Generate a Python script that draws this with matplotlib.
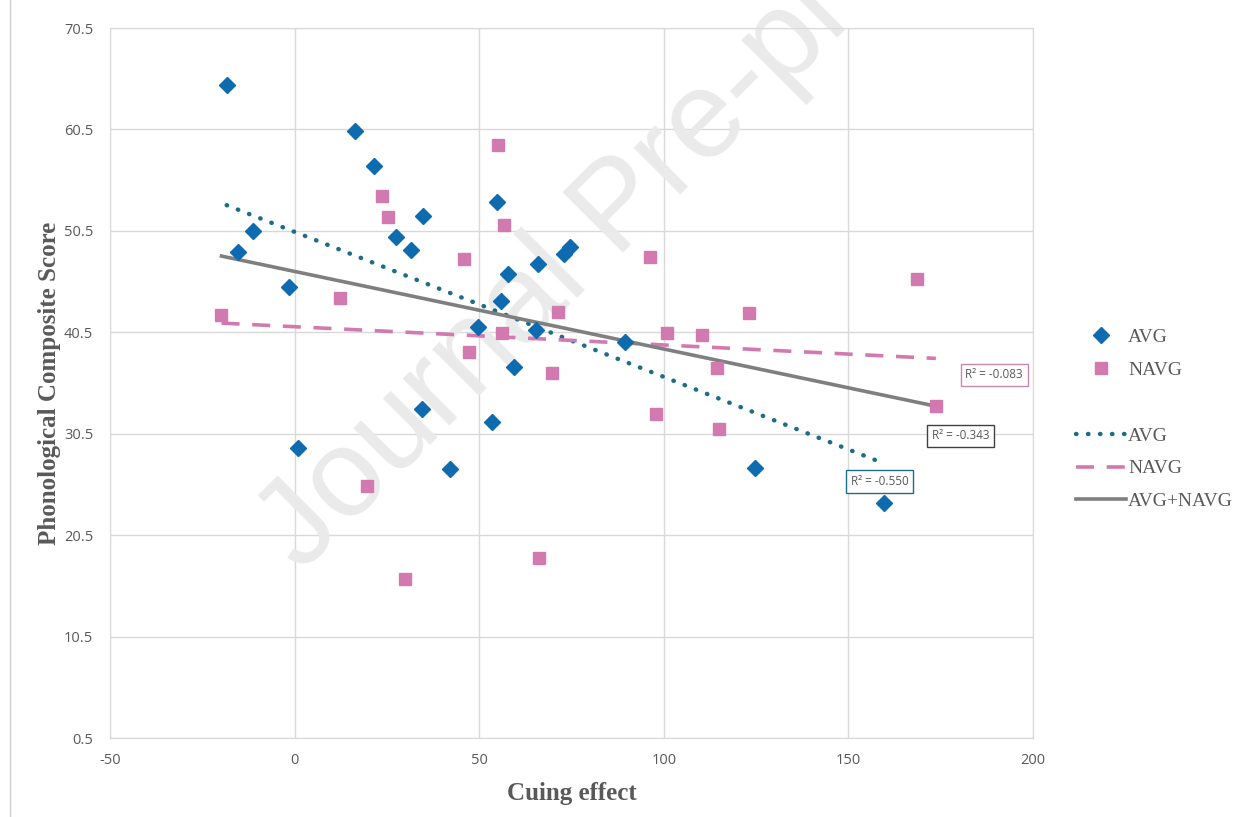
import numpy as np
import matplotlib.pyplot as plt
from matplotlib.lines import Line2D
from matplotlib.ticker import FuncFormatter

# AVG group (blue diamonds)
avg_x = [-18.4, -15.4, -11.4, -1.4, 0.8, 16.3, 21.4, 27.6, 31.4, 34.7, 34.4, 42.0,
         49.6, 53.4, 54.7, 55.8, 57.7, 59.3, 65.3, 65.9, 72.9, 74.5, 89.4, 124.7, 159.6]
avg_y = [64.9, 48.4, 50.5, 45.0, 29.1, 60.3, 56.9, 49.9, 48.6, 52.0, 32.9, 27.0,
         41.0, 31.7, 53.3, 43.6, 46.2, 37.1, 40.7, 47.2, 48.2, 48.9, 39.5, 27.1, 23.7]

# NAVG group (pink squares)
navg_x = [-19.8, 12.2, 19.5, 23.8, 25.2, 29.8, 45.8, 47.2, 55.0, 56.1, 56.6, 66.1,
          69.6, 71.3, 96.2, 97.8, 100.8, 110.3, 114.4, 114.9, 123.0, 168.6, 173.7]
navg_y = [42.2, 43.9, 25.3, 53.9, 51.9, 16.2, 47.7, 38.6, 59.0, 40.4, 51.1, 18.2,
          36.5, 42.5, 47.9, 32.4, 40.4, 40.2, 37.0, 31.0, 42.4, 45.8, 33.2]

# linear trend lines: (slope, intercept)
trend_avg = (-0.143, 50.4)
trend_navg = (-0.018, 41.05)
trend_all = (-0.0765, 46.5)

r2_labels = ["R\u00b2 = -0.550", "R\u00b2 = -0.083", "R\u00b2 = -0.343"]
r2_pos = [(158.5, 25.8), (189.5, 36.3), (180.3, 30.3)]

x_ticks = [-50, 0, 50, 100, 150, 200]
y_ticks = [0.5, 10.5, 20.5, 30.5, 40.5, 50.5, 60.5, 70.5]

blue = '#0E6BB0'
teal = '#1C6D88'
pink = '#D27AAF'
grey = '#7F7F7F'
txt = '#595959'

fig = plt.figure(figsize=(12.48, 8.17), dpi=100)
ax = fig.add_axes([110 / 1248, 1 - 738 / 817, (1033 - 110) / 1248, (738 - 28) / 817])

ax.set_xlim(-50, 200)
ax.set_ylim(0.5, 70.5)
ax.set_xticks(x_ticks)
ax.set_yticks(y_ticks)
ax.xaxis.set_major_formatter(FuncFormatter(lambda v, p: f"{v:.0f}"))
ax.yaxis.set_major_formatter(FuncFormatter(lambda v, p: f"{v:.1f}"))
ax.tick_params(length=0, labelsize=10.5, labelcolor=txt)
ax.tick_params(axis='x', pad=11)
ax.tick_params(axis='y', pad=12)
for lab in ax.get_xticklabels() + ax.get_yticklabels():
    lab.set_fontfamily('Open Sans')
ax.grid(True, color='#D9D9D9', linewidth=1)
ax.set_axisbelow(True)
for sp in ax.spines.values():
    sp.set_color('#D9D9D9')

# watermark (runs off the top edge, as in the source page)
ax.text(620 / 1248, 1 - 210 / 817, "Journal Pre-proof", transform=fig.transFigure,
        fontsize=90, family='Liberation Sans', color='#EAEAEA', rotation=45,
        ha='center', va='center', zorder=1, clip_on=False)

# trend lines
def trend(xs, coef):
    xr = np.array([min(xs), max(xs)])
    return xr, coef[0] * xr + coef[1]

tx, ty = trend(avg_x, trend_avg)
ax.plot(tx, ty, color=teal, linewidth=3.2, linestyle=(0, (0.1, 2.6)),
        dash_capstyle='round', zorder=3)
tx, ty = trend(navg_x, trend_navg)
ax.plot(tx, ty, color=pink, linewidth=2.6, linestyle=(0, (5, 3.5)), zorder=3)
tx, ty = trend(avg_x + navg_x, trend_all)
ax.plot(tx, ty, color=grey, linewidth=2.6, zorder=3)

# points
ax.plot(avg_x, avg_y, 'D', color=blue, markersize=8.5, linestyle='none', zorder=4)
ax.plot(navg_x, navg_y, 's', color=pink, markersize=9, linestyle='none', zorder=4)

# R^2 labels
for lab, (px, py), ec in zip(r2_labels, r2_pos, [teal, '#C58AAE', '#404040']):
    ax.text(px, py, lab, fontsize=8.5, family='Open Sans', color=txt, ha='center', va='center',
            zorder=5, clip_on=False,
            bbox=dict(boxstyle='square,pad=0.4', facecolor='white', edgecolor=ec, linewidth=1))

ax.set_xlabel("Cuing effect", fontsize=18, fontweight='bold', family='Liberation Serif',
              color=txt, labelpad=10)
ax.set_ylabel("Phonological Composite Score", fontsize=18, fontweight='bold',
              family='Liberation Serif', color=txt, labelpad=2)

handles = [
    Line2D([], [], marker='D', color=blue, linestyle='none', markersize=8.5),
    Line2D([], [], marker='s', color=pink, linestyle='none', markersize=9),
    Line2D([], [], linestyle='none'),
    Line2D([], [], color=teal, linewidth=3.2, linestyle=(0, (0.1, 2.6)), dash_capstyle='round'),
    Line2D([], [], color=pink, linewidth=2.6, linestyle=(0, (5, 3.5))),
    Line2D([], [], color=grey, linewidth=2.6),
]
labels = ["AVG", "NAVG", "", "AVG", "NAVG", "AVG+NAVG"]
leg = fig.legend(handles, labels, loc='upper left', bbox_to_anchor=(1062 / 1248, 1 - 315 / 817),
                 frameon=False, handlelength=2.6, handletextpad=0.1, labelspacing=0.78,
                 borderpad=0.2, prop={'family': 'Liberation Serif', 'size': 14})
for t in leg.get_texts():
    t.set_color(txt)

# thin page border on the left
fig.add_artist(Line2D([10 / 1248, 10 / 1248], [0, 1], color='#D0D0D0', linewidth=1,
                      transform=fig.transFigure))

fig.savefig('out.png', dpi=100)
